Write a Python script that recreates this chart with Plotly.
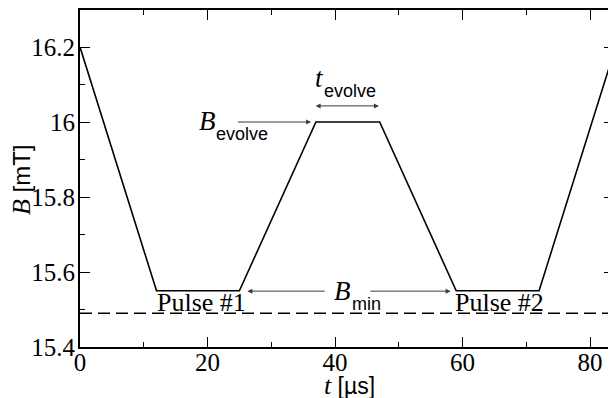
import plotly.graph_objects as go

# ---- data ----
t_us = [0, 12, 25, 37, 47, 59, 72, 84]
B_mT = [16.2, 15.55, 15.55, 16.0, 16.0, 15.55, 15.55, 16.2]
dash_t = [0, 90]
dash_B = [15.49, 15.49]
x_ticks = [0, 20, 40, 60, 80]
y_ticks = [15.4, 15.6, 15.8, 16.0, 16.2]

SERIF = "Liberation Serif"
SANS = "Liberation Sans"
ARROW = "#3a3a3a"

fig = go.Figure()
fig.add_trace(go.Scatter(x=t_us, y=B_mT, mode="lines",
                         line=dict(color="black", width=1.6), showlegend=False))
fig.add_trace(go.Scatter(x=dash_t, y=dash_B, mode="lines",
                         line=dict(color="black", width=1.6, dash="12px,6px"), showlegend=False))

ann = []
def txt(x, y, s, family, size, italic=False, xanchor="left", yanchor="middle"):
    if italic:
        s = "<i>" + s + "</i>"
    ann.append(dict(x=x, y=y, xref="x", yref="y", text=s, showarrow=False,
                    xanchor=xanchor, yanchor=yanchor,
                    font=dict(family=family, size=size, color="black")))

def arrow(x0, x1, y, both=False):
    d = dict(x=x1, y=y, ax=x0, ay=y, xref="x", yref="y", axref="x", ayref="y",
             text="", showarrow=True, arrowhead=2, arrowsize=1, arrowwidth=1,
             arrowcolor=ARROW, standoff=0, startstandoff=0)
    if both:
        d.update(arrowside="end+start", startarrowhead=2, startarrowsize=1)
    ann.append(d)

# B_evolve
txt(18.4, 16.004, "B", SERIF, 27, italic=True)
txt(21.0, 15.968, "evolve", SANS, 18)
arrow(24.53, 36.25, 16.0)
# t_evolve
txt(36.5, 16.118, "t", SERIF, 27, italic=True)
txt(37.9, 16.083, "evolve", SANS, 18)
arrow(36.72, 46.88, 16.043, both=True)
# B_min
txt(39.6, 15.549, "B", SERIF, 27, italic=True)
txt(42.4, 15.516, "min", SANS, 18)
arrow(38.6, 26.25, 15.549)
arrow(45.3, 58.13, 15.549)
# Pulse labels
txt(18.98, 15.52, "Pulse #1", SERIF, 26, xanchor="center")
txt(65.86, 15.52, "Pulse #2", SERIF, 26, xanchor="center")

# axis titles
ann.append(dict(x=0, y=0.4955, xref="paper", yref="paper", xshift=-59,
                text="<i>B</i><span style='font-family:Liberation Sans;font-size:24px'> [mT]</span>",
                showarrow=False, textangle=-90, xanchor="center", yanchor="middle",
                font=dict(family=SERIF, size=26, color="black")))
ann.append(dict(x=0.5056, y=0, xref="paper", yref="paper", yshift=-38,
                text="<i>t</i><span style='font-family:Liberation Sans;font-size:23px'> [µs]</span>",
                showarrow=False, xanchor="center", yanchor="middle",
                font=dict(family=SERIF, size=26, color="black")))

axis_common = dict(showline=True, linecolor="black", linewidth=2, mirror="allticks",
                   ticks="inside", ticklen=10, tickwidth=1.2, tickcolor="black",
                   showgrid=False, zeroline=False,
                   tickfont=dict(family=SERIF, size=25, color="black"))

fig.update_xaxes(range=[0, 83.75], tickvals=x_ticks, ticklabelstandoff=-8,
                 minor=dict(dtick=10, ticks="inside", ticklen=5, tickcolor="black", tickwidth=1.2),
                 **axis_common)
fig.update_yaxes(range=[15.4, 16.2987], tickvals=y_ticks, ticklabelstandoff=-2,
                 minor=dict(dtick=0.1, ticks="inside", ticklen=5, tickcolor="black", tickwidth=1.2),
                 **axis_common)

# page body adds an 8px margin, so the figure is sized to end at the window edge
fig.update_layout(width=608, height=390, margin=dict(l=72, r=0, t=2, b=51),
                  font=dict(family=SERIF, size=25, color="black"),
                  plot_bgcolor="white", paper_bgcolor="white", annotations=ann,
                  showlegend=False)

fig.write_html("out.html")
